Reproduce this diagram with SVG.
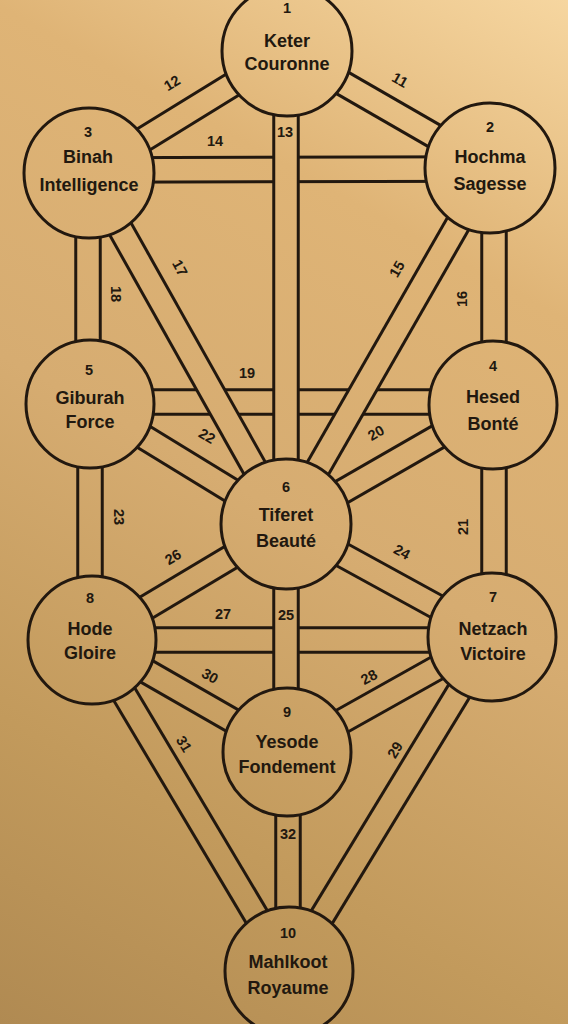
<svg xmlns="http://www.w3.org/2000/svg" width="568" height="1024" viewBox="0 0 568 1024">
<defs>
<linearGradient id="bg" gradientUnits="userSpaceOnUse" x1="568" y1="0" x2="0" y2="1024">
<stop offset="0" stop-color="#f6d6a0"/>
<stop offset="0.24" stop-color="#dfb476"/>
<stop offset="0.5" stop-color="#d6ac71"/>
<stop offset="0.77" stop-color="#c29a5c"/>
<stop offset="1" stop-color="#b08a52"/>
</linearGradient>
<style>
.o{stroke:#22180f;stroke-width:27.5;fill:none}
.i{stroke:url(#bg);stroke-width:21.5;fill:none}
.n{fill:url(#bg);stroke:#22180f;stroke-width:3}
.t{font-family:"Liberation Sans",Arial,sans-serif;font-weight:bold;fill:#22180f;text-anchor:middle;dominant-baseline:central}
.nm{font-size:18px}
.num{font-size:14.5px}
.lb{font-size:14.5px}
</style>
</defs>
<rect width="568" height="1024" fill="url(#bg)"/>
<g id="connectors">
<g id="p14"><line class="o" x1="89" y1="170" x2="490" y2="169"/><line class="i" x1="89" y1="170" x2="490" y2="169"/></g>
<g id="p19"><line class="o" x1="90" y1="402" x2="493" y2="402"/><line class="i" x1="90" y1="402" x2="493" y2="402"/></g>
<g id="p27"><line class="o" x1="92" y1="640" x2="492" y2="640"/><line class="i" x1="92" y1="640" x2="492" y2="640"/></g>
<g id="p11"><line class="o" x1="287" y1="51" x2="490" y2="168"/><line class="i" x1="287" y1="51" x2="490" y2="168"/></g>
<g id="p12"><line class="o" x1="287" y1="51" x2="89" y2="173"/><line class="i" x1="287" y1="51" x2="89" y2="173"/></g>
<g id="p13"><line class="o" x1="286" y1="51" x2="286" y2="524"/><line class="i" x1="286" y1="51" x2="286" y2="524"/></g>
<g id="p15"><line class="o" x1="490" y1="168" x2="286" y2="524"/><line class="i" x1="490" y1="168" x2="286" y2="524"/></g>
<g id="p16"><line class="o" x1="494" y1="168" x2="494" y2="405"/><line class="i" x1="494" y1="168" x2="494" y2="405"/></g>
<g id="p17"><line class="o" x1="89" y1="173" x2="286" y2="524"/><line class="i" x1="89" y1="173" x2="286" y2="524"/></g>
<g id="p18"><line class="o" x1="88" y1="173" x2="88" y2="404"/><line class="i" x1="88" y1="173" x2="88" y2="404"/></g>
<g id="p20"><line class="o" x1="493" y1="405" x2="286" y2="524"/><line class="i" x1="493" y1="405" x2="286" y2="524"/></g>
<g id="p21"><line class="o" x1="494" y1="405" x2="494" y2="637"/><line class="i" x1="494" y1="405" x2="494" y2="637"/></g>
<g id="p22"><line class="o" x1="90" y1="404" x2="286" y2="524"/><line class="i" x1="90" y1="404" x2="286" y2="524"/></g>
<g id="p23"><line class="o" x1="90" y1="404" x2="90" y2="640"/><line class="i" x1="90" y1="404" x2="90" y2="640"/></g>
<g id="p24"><line class="o" x1="286" y1="524" x2="492" y2="637"/><line class="i" x1="286" y1="524" x2="492" y2="637"/></g>
<g id="p25"><line class="o" x1="286" y1="524" x2="286" y2="752"/><line class="i" x1="286" y1="524" x2="286" y2="752"/></g>
<g id="p26"><line class="o" x1="92" y1="640" x2="286" y2="524"/><line class="i" x1="92" y1="640" x2="286" y2="524"/></g>
<g id="p28"><line class="o" x1="492" y1="637" x2="287" y2="752"/><line class="i" x1="492" y1="637" x2="287" y2="752"/></g>
<g id="p29"><line class="o" x1="492" y1="637" x2="289" y2="971"/><line class="i" x1="492" y1="637" x2="289" y2="971"/></g>
<g id="p30"><line class="o" x1="92" y1="640" x2="287" y2="752"/><line class="i" x1="92" y1="640" x2="287" y2="752"/></g>
<g id="p31"><line class="o" x1="92" y1="640" x2="289" y2="971"/><line class="i" x1="92" y1="640" x2="289" y2="971"/></g>
<g id="p32"><line class="o" x1="288" y1="752" x2="288" y2="971"/><line class="i" x1="288" y1="752" x2="288" y2="971"/></g>
</g>
<g id="labels" class="t lb">
<text x="172" y="83" transform="rotate(-31 172 83)">12</text>
<text x="400" y="80" transform="rotate(30 400 80)">11</text>
<text x="215" y="141">14</text>
<text x="285" y="132">13</text>
<text x="180" y="268" transform="rotate(61 180 268)">17</text>
<text x="116" y="294" transform="rotate(90 116 294)">18</text>
<text x="397" y="269" transform="rotate(-60 397 269)">15</text>
<text x="462" y="299" transform="rotate(-90 462 299)">16</text>
<text x="247" y="373">19</text>
<text x="207" y="436" transform="rotate(31 207 436)">22</text>
<text x="376" y="433" transform="rotate(-30 376 433)">20</text>
<text x="119" y="517" transform="rotate(90 119 517)">23</text>
<text x="463" y="527" transform="rotate(-90 463 527)">21</text>
<text x="173" y="557" transform="rotate(-31 173 557)">26</text>
<text x="402" y="552" transform="rotate(29 402 552)">24</text>
<text x="223" y="614">27</text>
<text x="286" y="615">25</text>
<text x="210" y="676" transform="rotate(30 210 676)">30</text>
<text x="369" y="677" transform="rotate(-29 369 677)">28</text>
<text x="184" y="744" transform="rotate(59 184 744)">31</text>
<text x="395" y="750" transform="rotate(-59 395 750)">29</text>
<text x="288" y="834">32</text>
</g>
<g id="n1"><circle class="n" cx="287" cy="51" r="65"/><text class="t num" x="287" y="8">1</text><text class="t nm" x="287" y="41">Keter</text><text class="t nm" x="287" y="64">Couronne</text></g>
<g id="n2"><circle class="n" cx="490" cy="168" r="65"/><text class="t num" x="490" y="127">2</text><text class="t nm" x="490" y="157">Hochma</text><text class="t nm" x="490" y="184">Sagesse</text></g>
<g id="n3"><circle class="n" cx="89" cy="173" r="65"/><text class="t num" x="88" y="132">3</text><text class="t nm" x="88" y="157">Binah</text><text class="t nm" x="89" y="185">Intelligence</text></g>
<g id="n4"><circle class="n" cx="493" cy="405" r="64"/><text class="t num" x="493" y="366">4</text><text class="t nm" x="493" y="397">Hesed</text><text class="t nm" x="493" y="424">Bonté</text></g>
<g id="n5"><circle class="n" cx="90" cy="404" r="64"/><text class="t num" x="89" y="370">5</text><text class="t nm" x="90" y="398">Giburah</text><text class="t nm" x="90" y="422">Force</text></g>
<g id="n6"><circle class="n" cx="286" cy="524" r="65"/><text class="t num" x="286" y="487">6</text><text class="t nm" x="286" y="515">Tiferet</text><text class="t nm" x="286" y="541">Beauté</text></g>
<g id="n7"><circle class="n" cx="492" cy="637" r="64"/><text class="t num" x="493" y="597">7</text><text class="t nm" x="493" y="629">Netzach</text><text class="t nm" x="493" y="654">Victoire</text></g>
<g id="n8"><circle class="n" cx="92" cy="640" r="64"/><text class="t num" x="90" y="598">8</text><text class="t nm" x="90" y="629">Hode</text><text class="t nm" x="90" y="653">Gloire</text></g>
<g id="n9"><circle class="n" cx="287" cy="752" r="64"/><text class="t num" x="287" y="712">9</text><text class="t nm" x="287" y="742">Yesode</text><text class="t nm" x="287" y="767">Fondement</text></g>
<g id="n10"><circle class="n" cx="289" cy="971" r="64"/><text class="t num" x="288" y="933">10</text><text class="t nm" x="288" y="962">Mahlkoot</text><text class="t nm" x="288" y="988">Royaume</text></g>
</svg>
